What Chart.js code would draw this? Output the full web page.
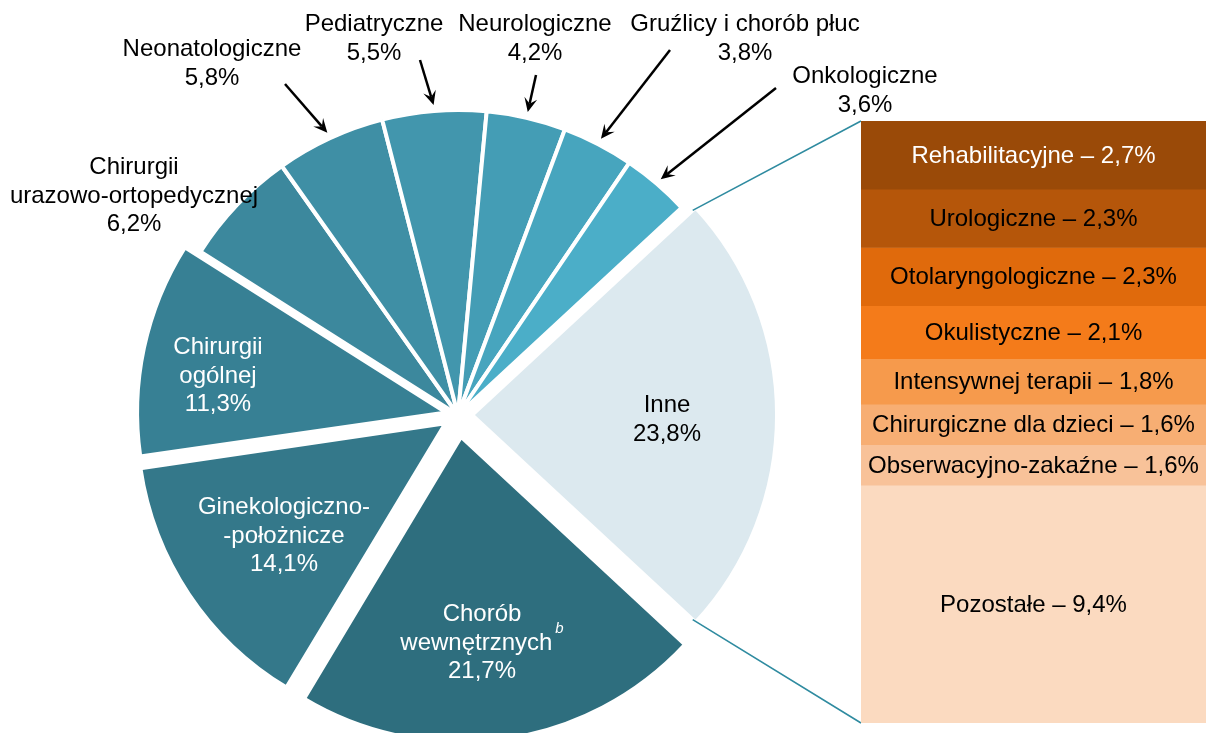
<!DOCTYPE html>
<html>
<head>
<meta charset="utf-8">
<script src="https://cdn.jsdelivr.net/npm/chart.js@4"></script>
<style>
  html, body { margin: 0; padding: 0; background: #fff; }
  #wrap { position: relative; width: 1206px; height: 733px; overflow: hidden; }
  #pieChart { position: absolute; left: 0; top: 0; }
  #barChart { position: absolute; left: 861px; top: 121px; }
</style>
</head>
<body>
<div id="wrap">
  <canvas id="pieChart" width="1206" height="733"></canvas>
  <canvas id="barChart" width="345" height="602"></canvas>
</div>
<script>
// pie: wards, clockwise from "Inne"
const wards = [['Inne'], ['Chorób', 'wewnętrznych'], ['Ginekologiczno-', '-położnicze'], ['Chirurgii', 'ogólnej'],
    ['Chirurgii', 'urazowo-ortopedycznej'], ['Neonatologiczne'], ['Pediatryczne'], ['Neurologiczne'],
    ['Gruźlicy i chorób płuc'], ['Onkologiczne']];
const wardShares = [23.8, 21.7, 14.1, 11.3, 6.2, 5.8, 5.5, 4.2, 3.8, 3.6];
const wardNotes = ['', 'b', '', '', '', '', '', '', '', ''];

// bar: breakdown of "Inne", top to bottom
const otherWards = ['Rehabilitacyjne', 'Urologiczne', 'Otolaryngologiczne', 'Okulistyczne', 'Intensywnej terapii',
    'Chirurgiczne dla dzieci', 'Obserwacyjno-zakaźne', 'Pozostałe'];
const otherShares = [2.7, 2.3, 2.3, 2.1, 1.8, 1.6, 1.6, 9.4];

// styling
const wardColors = ['#dce9ef', '#2e6e7e', '#34788a', '#378094', '#3c889d', '#3f8fa5', '#4296ad', '#449db5', '#47a5be', '#4baec8'];
const wardOffsets = [14, 22, 15, 12, 0, 0, 0, 0, 0, 0];   // visible shift in px
const wardTextColors = ['#000', '#fff', '#fff', '#fff', '#000', '#000', '#000', '#000', '#000', '#000'];
const otherColors = ['#9a4a08', '#b5560a', '#e06a0c', '#f47b1a', '#f69a4c', '#f7ae73', '#f8c299', '#fbdac0'];
const otherTextColors = ['#fff', '#000', '#000', '#000', '#000', '#000', '#000', '#000'];

// label placement (block centre), arrow tails for the small slices
const labelAt = [
    {x: 667, y: 420}, {x: 482, y: 643}, {x: 284, y: 536}, {x: 218, y: 376},
    {x: 134, y: 196},
    {x: 212, y: 64, tail: [285, 84]},
    {x: 374, y: 39, tail: [420, 60]},
    {x: 535, y: 39, tail: [536, 75]},
    {x: 745, y: 39, tail: [670, 50]},
    {x: 865, y: 91, tail: [776, 88]}
];

const FONT = '24px "Liberation Sans", Arial, sans-serif';
const NOTE_FONT = 'italic 15px "Liberation Sans", Arial, sans-serif';
const LINE = 28.5;

function fmt(v) {
    return v.toFixed(1).replace('.', ',') + '%';
}

function arrow(ctx, x1, y1, x2, y2) {
    let a = Math.atan2(y2 - y1, x2 - x1);
    let c = Math.cos(a), s = Math.sin(a);
    let head = 14, half = 6.5;
    ctx.beginPath();
    ctx.moveTo(x1, y1);
    ctx.lineTo(x2 - c * head * 0.6, y2 - s * head * 0.6);
    ctx.stroke();
    ctx.beginPath();
    ctx.moveTo(x2, y2);
    ctx.lineTo(x2 - c * head + s * half, y2 - s * head - c * half);
    ctx.lineTo(x2 - c * head * 0.6, y2 - s * head * 0.6);
    ctx.lineTo(x2 - c * head - s * half, y2 - s * head + c * half);
    ctx.closePath();
    ctx.fill();
}

const barLabels = {
    id: 'barLabels',
    afterDatasetsDraw(chart) {
        let ctx = chart.ctx;
        ctx.save();
        ctx.font = FONT;
        ctx.textAlign = 'center';
        ctx.textBaseline = 'middle';
        chart.data.datasets.forEach((ds, i) => {
            let bar = chart.getDatasetMeta(i).data[0];
            ctx.fillStyle = otherTextColors[i];
            ctx.fillText(otherWards[i] + ' – ' + fmt(otherShares[i]), bar.x, (bar.y + bar.base) / 2 + 1);
        });
        ctx.restore();
    }
};

const barChart = new Chart(document.getElementById('barChart'), {
    type: 'bar',
    data: {
        labels: ['Inne'],
        datasets: otherWards.map((name, i) => ({
            label: name,
            data: [otherShares[i]],
            backgroundColor: otherColors[i],
            borderWidth: 0,
            barPercentage: 1,
            categoryPercentage: 1
        }))
    },
    options: {
        responsive: false,
        animation: false,
        events: [],
        layout: { padding: 0 },
        scales: {
            x: { stacked: true, display: false },
            y: { stacked: true, display: false, reverse: true, min: 0, max: wardShares[0] }
        },
        plugins: { legend: { display: false }, tooltip: { enabled: false } }
    },
    plugins: [barLabels]
});

const pieLabels = {
    id: 'pieLabels',
    afterDatasetsDraw(chart) {
        let ctx = chart.ctx;
        let arcs = chart.getDatasetMeta(0).data;
        ctx.save();

        // connectors from "Inne" to the bar
        let inne = arcs[0];
        let mid = (inne.startAngle + inne.endAngle) / 2;
        let cx = inne.x + Math.cos(mid) * wardOffsets[0];
        let cy = inne.y + Math.sin(mid) * wardOffsets[0];
        let r = inne.outerRadius - 4;
        let canvas = barChart.canvas;
        let area = barChart.chartArea;
        let bx = canvas.offsetLeft + area.left;
        ctx.strokeStyle = '#2f8ba0';
        ctx.lineWidth = 1.6;
        ctx.beginPath();
        ctx.moveTo(cx + Math.cos(inne.startAngle) * r, cy + Math.sin(inne.startAngle) * r);
        ctx.lineTo(bx, canvas.offsetTop + area.top);
        ctx.moveTo(cx + Math.cos(inne.endAngle) * r, cy + Math.sin(inne.endAngle) * r);
        ctx.lineTo(bx, canvas.offsetTop + area.bottom);
        ctx.stroke();

        // arrows for the small slices
        ctx.strokeStyle = '#000';
        ctx.fillStyle = '#000';
        ctx.lineWidth = 2.5;
        arcs.forEach((arc, i) => {
            let pos = labelAt[i];
            if (!pos.tail) return;
            let m = (arc.startAngle + arc.endAngle) / 2;
            let tr = arc.outerRadius + 6;
            arrow(ctx, pos.tail[0], pos.tail[1], arc.x + Math.cos(m) * tr, arc.y + Math.sin(m) * tr);
        });

        // text
        ctx.font = FONT;
        ctx.textAlign = 'center';
        ctx.textBaseline = 'middle';
        arcs.forEach((arc, i) => {
            let pos = labelAt[i];
            let lines = wards[i].concat(fmt(wardShares[i]));
            let y0 = pos.y - (lines.length - 1) * LINE / 2;
            ctx.fillStyle = wardTextColors[i];
            lines.forEach((line, k) => {
                let y = y0 + k * LINE;
                if (wardNotes[i] && k === lines.length - 2) {
                    ctx.font = NOTE_FONT;
                    let nw = ctx.measureText(wardNotes[i]).width + 3;
                    ctx.font = FONT;
                    let w = ctx.measureText(line).width;
                    let x = pos.x - nw / 2;
                    ctx.fillText(line, x, y);
                    ctx.font = NOTE_FONT;
                    ctx.textAlign = 'left';
                    ctx.fillText(wardNotes[i], x + w / 2 + 3, y - 14);
                    ctx.font = FONT;
                    ctx.textAlign = 'center';
                } else {
                    ctx.fillText(line, pos.x, y);
                }
            });
        });
        ctx.restore();
    }
};

new Chart(document.getElementById('pieChart'), {
    type: 'pie',
    data: {
        labels: wards,
        datasets: [{
            data: wardShares,
            backgroundColor: wardColors,
            borderColor: '#fff',
            borderWidth: 4,
            offset: wardOffsets.map(o => o * 4),   // Chart.js v4 draws offset / 4
            radius: 305
        }]
    },
    options: {
        responsive: false,
        animation: false,
        events: [],
        rotation: 47.16,
        layout: { padding: { left: 0, right: 290, top: 97, bottom: 0 } },
        plugins: { legend: { display: false }, tooltip: { enabled: false } }
    },
    plugins: [pieLabels]
});
</script>
</body>
</html>
